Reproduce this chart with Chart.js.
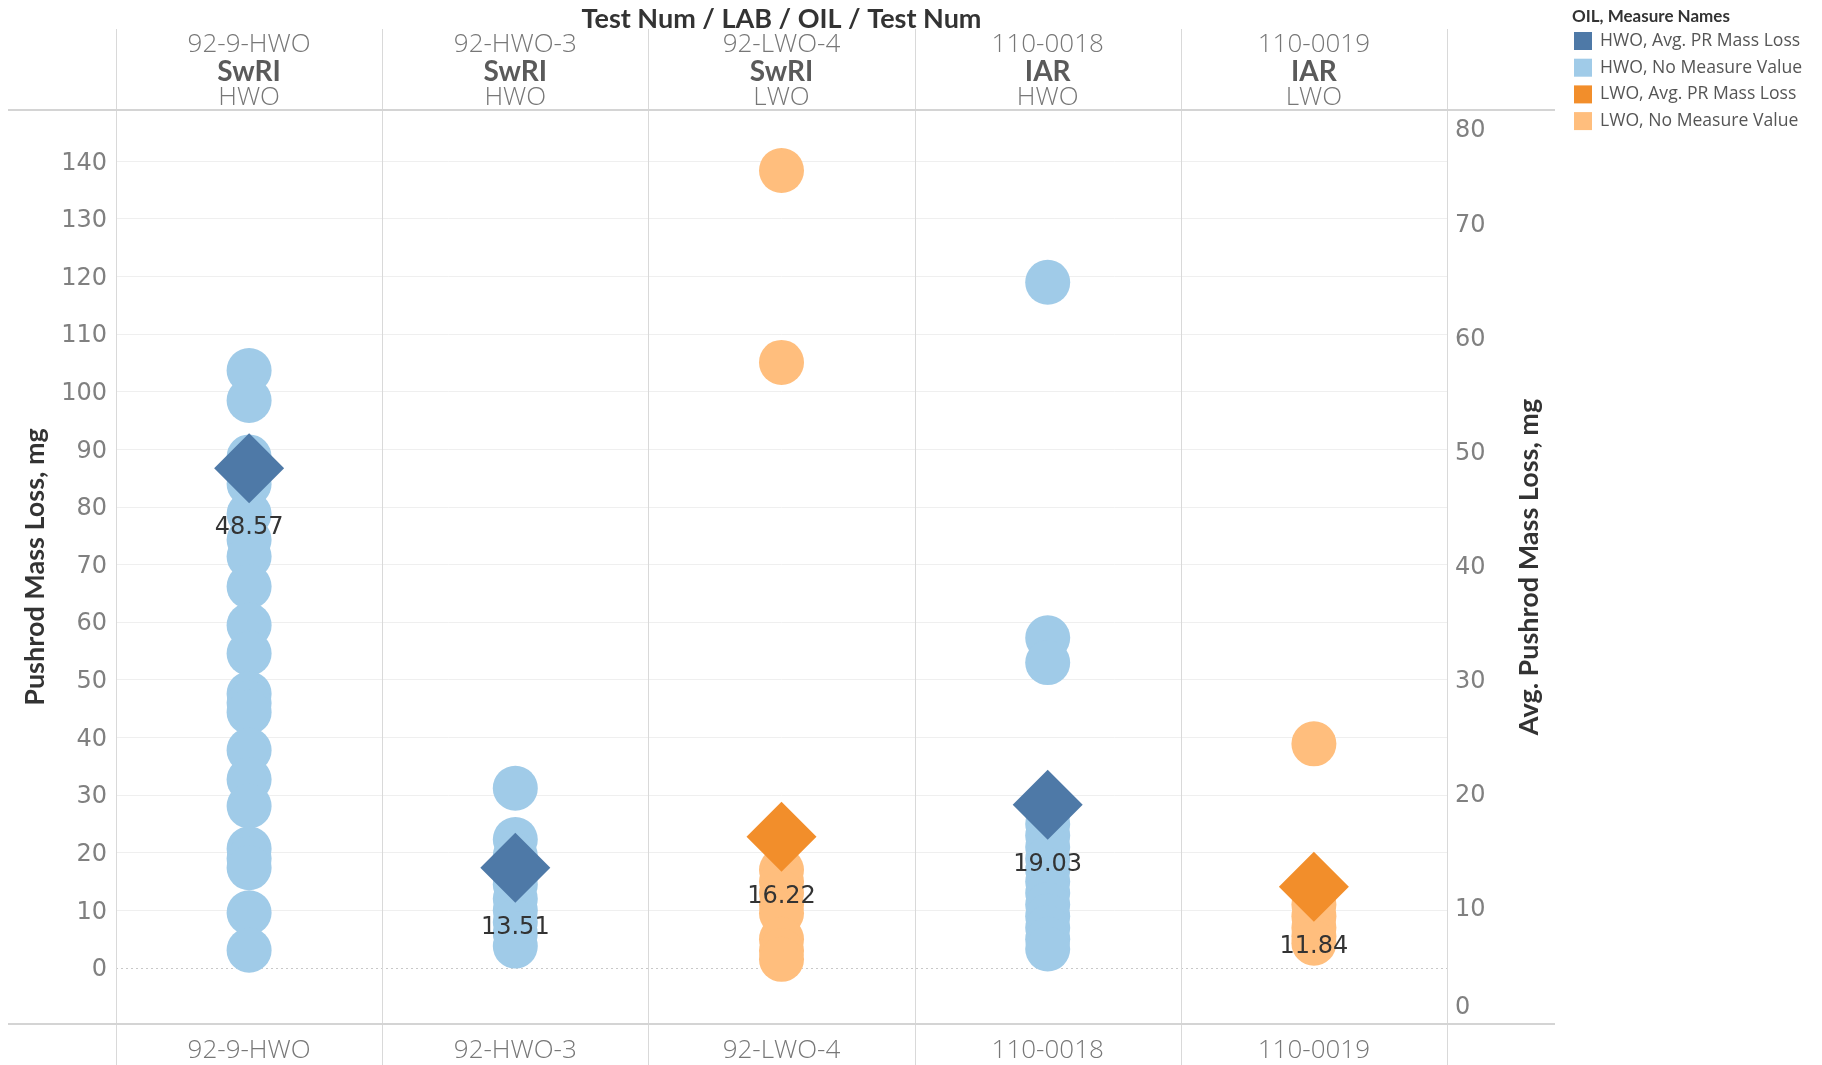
<!DOCTYPE html>
<html>
<head>
<meta charset="utf-8">
<script src="https://cdn.jsdelivr.net/npm/chart.js@4.4.1/dist/chart.umd.min.js"></script>
<style>
  html, body { margin: 0; padding: 0; background: #fff; }
  #wrap { width: 1822px; height: 1065px; }
</style>
</head>
<body>
<div id="wrap"><canvas id="myChart" width="1822" height="1065"></canvas></div>
<script>
// columns (Test Num / LAB / OIL)
const tests = ['92-9-HWO', '92-HWO-3', '92-LWO-4', '110-0018', '110-0019'];
const labs = ['SwRI', 'SwRI', 'SwRI', 'IAR', 'IAR'];
const oils = ['HWO', 'HWO', 'LWO', 'HWO', 'LWO'];

// avg pushrod mass loss (right axis)
const avgLoss = [48.57, 13.51, 16.22, 19.03, 11.84];

// individual pushrod mass loss, mg (left axis)
const loss929HWO = [103.7, 98.5, 88.7, 84, 78.8, 74.3, 71.4, 66.2, 59.5, 54.6, 47.6, 46, 44.4, 37.8, 32.7, 28.1, 20.7, 19, 17.4, 9.6, 3.1];
const lossHWO3 = [31.2, 22.3, 19.5, 17, 14.5, 12, 10, 8, 6, 3.8];
const lossLWO4 = [138.4, 105.1, 17, 15, 13, 11, 9.5, 5, 3, 1.5];
const loss0018 = [119.0, 57.3, 53.0, 27, 25, 23, 21, 19, 17, 15, 13, 11, 9, 7, 5, 3.3];
const loss0019 = [38.9, 13, 11, 9, 7, 5.5, 4.3];
const testLoss = [loss929HWO, lossHWO3, lossLWO4, loss0018, loss0019];

const leftTicks = [0, 10, 20, 30, 40, 50, 60, 70, 80, 90, 100, 110, 120, 130, 140];
const rightTicks = [0, 10, 20, 30, 40, 50, 60, 70, 80];

const colors = {
  HWO: { avg: '#4e79a7', pt: '#a0cbe8' },
  LWO: { avg: '#f28e2b', pt: '#ffbe7d' }
};
const legendItems = [
  ['HWO, Avg. PR Mass Loss', colors.HWO.avg],
  ['HWO, No Measure Value', colors.HWO.pt],
  ['LWO, Avg. PR Mass Loss', colors.LWO.avg],
  ['LWO, No Measure Value', colors.LWO.pt]
];

const numFont = '"DejaVu Sans", sans-serif';
const txtFont = '"Open Sans", Lato, sans-serif';
const boldFont = 'Lato, "Open Sans", sans-serif';

function avgPoints(oil) {
  return tests.map((t, i) => oils[i] === oil ? { x: t, y: avgLoss[i] } : null).filter(p => p);
}
function lossPoints(oil) {
  const pts = [];
  tests.forEach((t, i) => {
    if (oils[i] === oil) testLoss[i].forEach(v => pts.push({ x: t, y: v }));
  });
  return pts;
}

const tableauBits = {
  id: 'tableauBits',
  beforeDatasetsDraw(chart) {
    const { ctx, chartArea: ca, scales: { x, y } } = chart;
    ctx.save();
    // zero line
    const y0 = y.getPixelForValue(0);
    ctx.strokeStyle = '#c8c8c8';
    ctx.lineWidth = 1;
    ctx.setLineDash([2, 3]);
    ctx.beginPath();
    ctx.moveTo(ca.left, y0 + 0.5);
    ctx.lineTo(ca.right, y0 + 0.5);
    ctx.stroke();
    ctx.setLineDash([]);
    // column dividers
    const half = (x.getPixelForValue(1) - x.getPixelForValue(0)) / 2;
    ctx.strokeStyle = '#d9d9d9';
    for (let i = 0; i <= tests.length; i++) {
      const px = Math.round(x.getPixelForValue(Math.min(i, tests.length - 1)) + (i < tests.length ? -half : half)) + 0.5;
      ctx.beginPath();
      ctx.moveTo(px, 29);
      ctx.lineTo(px, 1065);
      ctx.stroke();
    }
    // header / footer rules
    ctx.strokeStyle = '#d4d4d4';
    ctx.lineWidth = 2;
    [ca.top, ca.bottom].forEach(py => {
      ctx.beginPath();
      ctx.moveTo(8, py);
      ctx.lineTo(1555, py);
      ctx.stroke();
    });
    ctx.restore();
  },
  afterDatasetsDraw(chart) {
    const { ctx, chartArea: ca, scales: { x, y2 } } = chart;
    ctx.save();
    // value labels under diamonds
    ctx.fillStyle = '#333';
    ctx.font = '24px ' + numFont;
    ctx.textAlign = 'center';
    ctx.textBaseline = 'middle';
    [0, 1].forEach(di => {
      const meta = chart.getDatasetMeta(di);
      meta.data.forEach((el, j) => {
        const v = chart.data.datasets[di].data[j].y;
        ctx.fillText(v.toFixed(2), el.x, el.y + 60);
      });
    });
    // title
    ctx.font = 'bold 27px ' + boldFont;
    ctx.fillStyle = '#333';
    ctx.fillText('Test Num / LAB / OIL / Test Num', (ca.left + ca.right) / 2, 19);
    // column headers
    tests.forEach((t, i) => {
      const cx = x.getPixelForValue(i);
      ctx.fillStyle = '#777';
      ctx.font = '300 26px ' + txtFont;
      ctx.fillText(t, cx, 45);
      ctx.fillStyle = '#5a5a5a';
      ctx.font = 'bold 28px ' + boldFont;
      ctx.fillText(labs[i], cx, 72);
      ctx.fillStyle = '#777';
      ctx.font = '300 26px ' + txtFont;
      ctx.fillText(oils[i], cx, 98);
    });
    // right axis labels (kept inside plot edges)
    ctx.font = '24px ' + numFont;
    ctx.fillStyle = '#808080';
    ctx.textAlign = 'left';
    rightTicks.forEach(v => {
      let py = y2.getPixelForValue(v) + 2;
      py = Math.max(ca.top + 21, Math.min(ca.bottom - 16, py));
      ctx.fillText(String(v), ca.right + 8, py);
    });
    // right axis title
    ctx.save();
    ctx.translate(1529, (ca.top + ca.bottom) / 2);
    ctx.rotate(-Math.PI / 2);
    ctx.textAlign = 'center';
    ctx.font = 'bold 27px ' + boldFont;
    ctx.fillStyle = '#333';
    ctx.fillText('Avg. Pushrod Mass Loss, mg', 0, 0);
    ctx.restore();
    // legend
    ctx.textAlign = 'left';
    ctx.fillStyle = '#333';
    ctx.font = 'bold 17px ' + boldFont;
    ctx.fillText('OIL, Measure Names', 1572, 17);
    ctx.font = '17.6px ' + txtFont;
    legendItems.forEach(([label, c], i) => {
      const ly = 41 + i * 26.7;
      ctx.fillStyle = c;
      ctx.fillRect(1574, ly - 9, 18, 18);
      ctx.fillStyle = '#555';
      ctx.fillText(label, 1600, ly);
    });
    ctx.restore();
  }
};

const ctx = document.getElementById('myChart');

new Chart(ctx, {
  type: 'line',
  data: {
    labels: tests,
    datasets: [
      { label: 'HWO, Avg. PR Mass Loss', data: avgPoints('HWO'), yAxisID: 'y2', showLine: false,
        pointStyle: 'rectRot', pointRadius: 35, pointHoverRadius: 35, pointBorderWidth: 0,
        backgroundColor: colors.HWO.avg, borderColor: colors.HWO.avg },
      { label: 'LWO, Avg. PR Mass Loss', data: avgPoints('LWO'), yAxisID: 'y2', showLine: false,
        pointStyle: 'rectRot', pointRadius: 35, pointHoverRadius: 35, pointBorderWidth: 0,
        backgroundColor: colors.LWO.avg, borderColor: colors.LWO.avg },
      { label: 'HWO, No Measure Value', data: lossPoints('HWO'), yAxisID: 'y', showLine: false,
        pointRadius: 22.5, pointHoverRadius: 22.5, pointBorderWidth: 0,
        backgroundColor: colors.HWO.pt, borderColor: colors.HWO.pt },
      { label: 'LWO, No Measure Value', data: lossPoints('LWO'), yAxisID: 'y', showLine: false,
        pointRadius: 22.5, pointHoverRadius: 22.5, pointBorderWidth: 0,
        backgroundColor: colors.LWO.pt, borderColor: colors.LWO.pt }
    ]
  },
  options: {
    responsive: false,
    animation: false,
    layout: { padding: { top: 110, right: 375, bottom: 0, left: 0 } },
    plugins: {
      legend: { display: false },
      tooltip: { enabled: false }
    },
    scales: {
      x: {
        type: 'category',
        offset: true,
        grid: { display: false, drawTicks: false },
        border: { display: false },
        ticks: { color: '#777', font: { family: txtFont, size: 26, weight: 300 }, padding: 11, maxRotation: 0 },
        afterFit: s => { s.height = 41; }
      },
      y: {
        position: 'left',
        min: -9.72,
        max: 148.9,
        grid: {
          drawTicks: false,
          color: c => (c.tick && c.tick.value === 0) ? 'rgba(0,0,0,0)' : '#efefef'
        },
        border: { display: false },
        ticks: {
          stepSize: 10,
          includeBounds: false,
          padding: 9,
          labelOffset: 2,
          color: '#808080',
          font: { family: numFont, size: 24 },
          callback: v => leftTicks.includes(v) ? String(v) : null
        },
        title: {
          display: true,
          text: 'Pushrod Mass Loss, mg',
          color: '#333',
          font: { family: boldFont, size: 27, weight: 'bold' },
          padding: { top: 19, bottom: 0 }
        },
        afterFit: s => { s.width = 116; }
      },
      y2: {
        display: false,
        position: 'right',
        min: -0.2,
        max: 80
      }
    }
  },
  plugins: [tableauBits]
});
</script>
</body>
</html>
